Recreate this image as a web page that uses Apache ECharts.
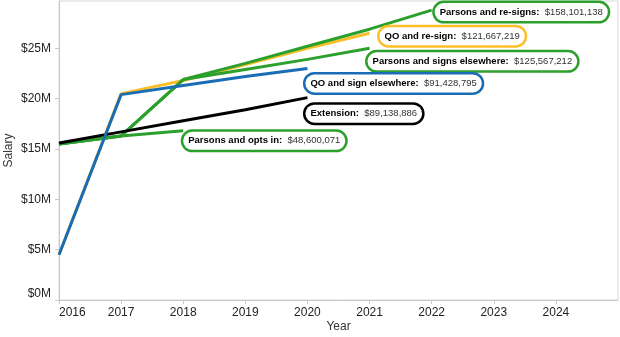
<!DOCTYPE html>
<html>
<head>
<meta charset="utf-8">
<script src="https://cdn.jsdelivr.net/npm/echarts@6/dist/echarts.min.js"></script>
<style>
  html, body { margin: 0; padding: 0; background: #fff; }
  #chart { width: 620px; height: 337px; }
</style>
</head>
<body>
<div id="chart"></div>
<script>
// ---- data (salary in $M) ----
const years = [2016, 2017, 2018, 2019, 2020, 2021, 2022];
const parsonsResigns   = [15.5, 16.3, 21.9, 23.5, 25.2, 26.9, 28.8];
const qoResign         = [4.5, 20.5, 21.8, 23.4, 25.0, 26.5];
const parsonsElsewhere = [15.5, 16.3, 21.9, 22.9, 23.9, 25.0];
const qoElsewhere      = [4.5, 20.4, 21.3, 22.2, 23.0];
const extension        = [15.6, 16.7, 17.8, 18.9, 20.1];
const parsonsOptsIn    = [15.5, 16.3, 16.8];

const xTickLabels = ['2016', '2017', '2018', '2019', '2020', '2021', '2022', '2023', '2024'];
const yTickLabels = ['$0M', '$5M', '$10M', '$15M', '$20M', '$25M'];

const calloutNames  = ['Parsons and re-signs:', 'QO and re-sign:', 'Parsons and signs elsewhere:', 'QO and sign elsewhere:', 'Extension:', 'Parsons and opts in:'];
const calloutTotals = ['$158,101,138', '$121,667,219', '$125,567,212', '$91,428,795', '$89,138,886', '$48,600,071'];

const GREEN = '#2ca02c', BLUE = '#1a6db5', YELLOW = '#fbbf2a', BLACK = '#000000';

const seriesDefs = [
  { name: 'QO and re-sign', vals: qoResign, color: YELLOW, callout: 1, off: [10, 3] },
  { name: 'Parsons and re-signs', vals: parsonsResigns, color: GREEN, callout: 0, off: [3, 2] },
  { name: 'Parsons and signs elsewhere', vals: parsonsElsewhere, color: GREEN, callout: 2, off: [-2, 13] },
  { name: 'Parsons and opts in', vals: parsonsOptsIn, color: GREEN, callout: 5, off: [0, 10] },
  { name: 'Extension', vals: extension, color: BLACK, callout: 4, off: [-2, 16] },
  { name: 'QO and sign elsewhere', vals: qoElsewhere, color: BLUE, callout: 3, off: [-2, 15] }
];

const chart = echarts.init(document.getElementById('chart'), null, { renderer: 'canvas' });

const FONT = 'Liberation Sans, Arial, sans-serif';

const option = {
  animation: false,
  textStyle: { fontFamily: FONT },
  grid: {
    left: 59, right: 2, top: 1, bottom: 37,
    containLabel: false,
    outerBoundsMode: 'none',
    show: true, borderColor: '#d9d9d9', borderWidth: 1
  },
  xAxis: {
    type: 'value',
    min: 2016, max: 2025, interval: 1,
    name: 'Year', nameLocation: 'middle', nameGap: 21,
    nameMoveOverlap: false,
    nameTextStyle: { color: '#333', fontSize: 12, fontFamily: FONT },
    axisLine: { show: true, lineStyle: { color: '#c8c8c8' } },
    axisTick: { show: true, length: 4, lineStyle: { color: '#c8c8c8' } },
    splitLine: { show: false },
    axisLabel: {
      color: '#222', fontSize: 12, margin: 7,
      alignMinLabel: 'left', showMaxLabel: false,
      formatter: function (v) { const i = Math.round(v) - 2016; return xTickLabels[i] || ''; }
    }
  },
  yAxis: {
    type: 'value',
    min: 0, max: 29.7, interval: 5,
    name: 'Salary', nameLocation: 'middle', nameGap: 44, nameRotate: 90,
    nameMoveOverlap: false,
    nameTextStyle: { color: '#333', fontSize: 12, fontFamily: FONT },
    axisLine: { show: true, lineStyle: { color: '#c8c8c8' } },
    axisTick: { show: true, length: 4, lineStyle: { color: '#c8c8c8' } },
    splitLine: { show: false },
    axisLabel: {
      color: '#222', fontSize: 12, margin: 8,
      showMaxLabel: false,
      verticalAlignMinLabel: 'bottom',
      formatter: function (v) { const i = Math.round(v / 5); return yTickLabels[i] || ''; }
    }
  },
  series: seriesDefs.map(function (d) {
    return {
      name: d.name,
      type: 'line',
      data: d.vals.map(function (v, i) { return [years[i], v]; }),
      showSymbol: false,
      symbol: 'none',
      lineStyle: { color: d.color, width: 3 },
      itemStyle: { color: d.color },
      emphasis: { disabled: true }
    };
  })
};

chart.setOption(option);

// callouts anchored at each line's final point
const graphics = seriesDefs.map(function (d) {
  const last = d.vals.length - 1;
  const p = chart.convertToPixel({ gridIndex: 0 }, [years[last], d.vals[last]]);
  return {
    type: 'text',
    x: p[0] + d.off[0],
    y: p[1] + d.off[1],
    z: 100,
    style: {
      text: '{b|' + calloutNames[d.callout] + '}  {v|' + calloutTotals[d.callout] + '}',
      align: 'left',
      verticalAlign: 'middle',
      backgroundColor: '#ffffff',
      borderColor: d.color,
      borderWidth: 2.5,
      borderRadius: 9,
      padding: [4, 5],
      font: '9.5px ' + FONT,
      fill: '#222',
      rich: {
        b: { fontWeight: 'bold', fontSize: 9.5, fill: '#000', fontFamily: FONT },
        v: { fontSize: 9.5, fill: '#333', fontFamily: FONT }
      }
    }
  };
});

chart.setOption({ graphic: graphics });
</script>
</body>
</html>
